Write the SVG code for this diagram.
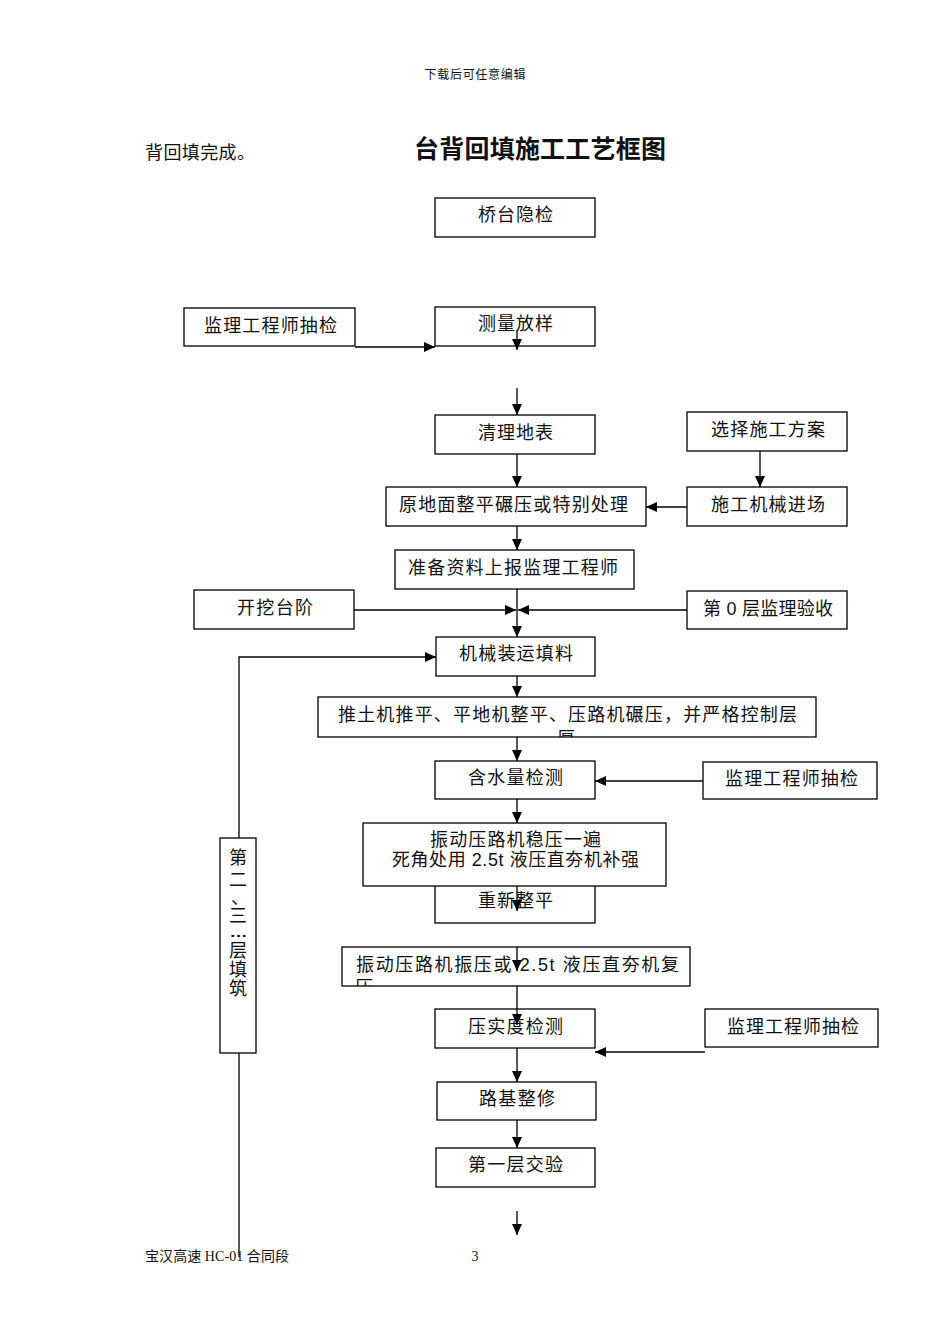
<svg xmlns="http://www.w3.org/2000/svg" width="950" height="1344" viewBox="0 0 950 1344">
<style>
.bx{fill:#fff;stroke:#000;stroke-width:1.3}
.t{font-family:"Liberation Sans","Noto Sans CJK SC",sans-serif;font-size:18px;fill:#111;text-anchor:middle}
.s{font-family:"Liberation Serif","Noto Sans CJK SC",serif}
.cn{stroke:#000;stroke-width:1.3;fill:none}
.ar{marker-end:url(#ah)}
</style>
<defs>
<marker id="ah" markerUnits="userSpaceOnUse" markerWidth="12" markerHeight="10" refX="11" refY="5" orient="auto">
<path d="M0,0 L11,5 L0,10 Z" fill="#000"/>
</marker>
<clipPath id="c1"><rect x="318" y="697" width="498" height="40"/></clipPath>
<clipPath id="c2"><rect x="342" y="947" width="348" height="39"/></clipPath>
</defs>
<rect width="950" height="1344" fill="#fff"/>

<text x="475" y="79" class="t s" style="font-size:12px" textLength="101">下载后可任意编辑</text>
<text x="145" y="159" class="t s" style="text-anchor:start" textLength="110">背回填完成。</text>
<text x="540" y="158" class="t" style="font-size:25px;font-weight:bold" textLength="252">台背回填施工工艺框图</text>

<g id="n1"><rect class="bx" x="435" y="198" width="160" height="39"/><text class="t" x="515.5" y="221" textLength="75">桥台隐检</text></g>
<g id="n2"><rect class="bx" x="435" y="307" width="160" height="39"/><text class="t" x="515.5" y="330" textLength="75">测量放样</text></g>
<g id="n3"><rect class="bx" x="184" y="308" width="171" height="38"/><text class="t" x="270.5" y="332" textLength="133">监理工程师抽检</text></g>
<g id="n4"><rect class="bx" x="435" y="415" width="160" height="39"/><text class="t" x="515.5" y="439" textLength="75">清理地表</text></g>
<g id="n5"><rect class="bx" x="687" y="412" width="160" height="39"/><text class="t" x="768" y="436" textLength="114">选择施工方案</text></g>
<g id="n6"><rect class="bx" x="386" y="487" width="260" height="39"/><text class="t" x="513.5" y="511" textLength="229">原地面整平碾压或特别处理</text></g>
<g id="n7"><rect class="bx" x="687" y="487" width="160" height="39"/><text class="t" x="768" y="511" textLength="114">施工机械进场</text></g>
<g id="n8"><rect class="bx" x="395" y="550" width="239" height="39"/><text class="t" x="513" y="574" textLength="210">准备资料上报监理工程师</text></g>
<g id="n9"><rect class="bx" x="194" y="590" width="160" height="39"/><text class="t" x="275" y="614" textLength="76">开挖台阶</text></g>
<g id="n10"><rect class="bx" x="687" y="591" width="160" height="38"/><text class="t" x="768" y="615" textLength="130">第 0 层监理验收</text></g>
<g id="n11"><rect class="bx" x="436" y="637" width="159" height="39"/><text class="t" x="516" y="660" textLength="114">机械装运填料</text></g>
<g id="n12"><rect class="bx" x="318" y="697" width="498" height="40"/><text class="t" x="567.5" y="721" textLength="459">推土机推平、平地机整平、压路机碾压，并严格控制层</text><text class="t" x="566" y="745" clip-path="url(#c1)">厚</text></g>
<g id="n13"><rect class="bx" x="435" y="761" width="160" height="38"/><text class="t" x="515.5" y="784" textLength="95">含水量检测</text></g>
<g id="n14"><rect class="bx" x="703" y="762" width="174" height="37"/><text class="t" x="791.5" y="785" textLength="133">监理工程师抽检</text></g>
<g id="n16"><rect class="bx" x="435" y="870" width="160" height="53"/><text class="t" x="515.5" y="907" textLength="75">重新整平</text></g>
<g id="n15"><rect class="bx" x="363" y="823" width="303" height="63"/><text class="t" x="515.5" y="846" textLength="171">振动压路机稳压一遍</text><text class="t" x="515.5" y="866" textLength="247">死角处用 2.5t 液压直夯机补强</text></g>
<g id="n17"><rect class="bx" x="342" y="947" width="348" height="39"/><text class="t" x="517.5" y="971" textLength="323">振动压路机振压或 2.5t 液压直夯机复</text><text class="t" x="364" y="994" clip-path="url(#c2)">压</text></g>
<g id="n18"><rect class="bx" x="435" y="1009" width="160" height="39"/><text class="t" x="515.5" y="1033" textLength="95">压实度检测</text></g>
<g id="n19"><rect class="bx" x="705" y="1009" width="173" height="38"/><text class="t" x="793" y="1033" textLength="132">监理工程师抽检</text></g>
<g id="n20"><rect class="bx" x="437" y="1082" width="159" height="38"/><text class="t" x="517" y="1105" textLength="76">路基整修</text></g>
<g id="n21"><rect class="bx" x="436" y="1148" width="159" height="39"/><text class="t" x="515.5" y="1171" textLength="95">第一层交验</text></g>
<g id="n22"><rect class="bx" x="220" y="838" width="36" height="215"/>
<text class="t"><tspan x="238" y="864">第</tspan><tspan x="238" y="886">二</tspan><tspan x="240" y="904">、</tspan><tspan x="238" y="922">三</tspan></text>
<text class="t" transform="translate(238.5,937) scale(1.5,1)" x="0" y="0" style="font-weight:bold;font-size:12px">…</text>
<text class="t"><tspan x="238" y="957">层</tspan><tspan x="238" y="976">填</tspan><tspan x="238" y="995">筑</tspan></text>
</g>

<g id="connectors">
<path class="cn ar" d="M355,347 H435"/>
<path class="cn ar" d="M517,330 V350"/>
<path class="cn ar" d="M517,388 V415"/>
<path class="cn ar" d="M517,454 V487"/>
<path class="cn ar" d="M760,451 V487"/>
<path class="cn ar" d="M687,507 H646"/>
<path class="cn ar" d="M517,526 V550"/>
<path class="cn ar" d="M517,589 V637"/>
<path class="cn ar" d="M354,610 H516"/>
<path class="cn ar" d="M687,610 H518"/>
<path class="cn ar" d="M239,838 V657 H436"/>
<path class="cn" d="M239,1053 V1257"/>
<path class="cn ar" d="M517,676 V697"/>
<path class="cn ar" d="M517,737 V761"/>
<path class="cn ar" d="M703,781 H595"/>
<path class="cn ar" d="M517,799 V823"/>
<path class="cn ar" d="M517,886 V911"/>
<path class="cn ar" d="M517,947 V971"/>
<path class="cn ar" d="M517,986 V1025"/>
<path class="cn ar" d="M705,1052 H595"/>
<path class="cn ar" d="M517,1048 V1082"/>
<path class="cn ar" d="M517,1120 V1148"/>
<path class="cn ar" d="M517,1211 V1235"/>
</g>

<text x="145" y="1261" class="t s" style="font-size:14px;text-anchor:start" textLength="144">宝汉高速 HC-01 合同段</text>
<text x="475" y="1261" class="t s" style="font-size:14px">3</text>
</svg>
